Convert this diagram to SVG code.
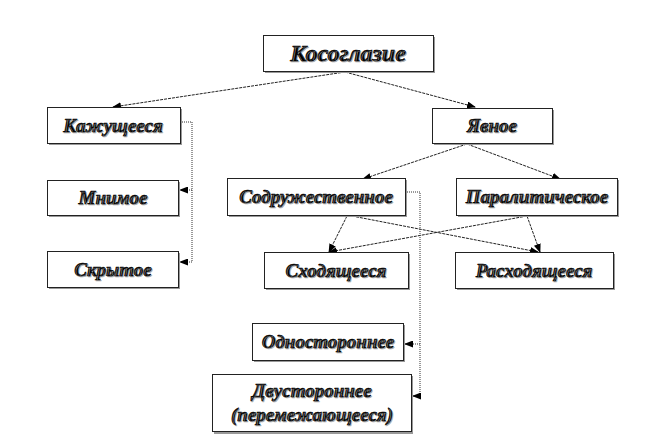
<svg xmlns="http://www.w3.org/2000/svg" width="672" height="435" viewBox="0 0 672 435">
<style>
.box{fill:#fff;stroke:#222;stroke-width:1}
.sh{fill:#999}
.t{font-family:'Liberation Serif',serif;font-weight:bold;font-style:italic;font-size:19px;fill:#000;stroke:#000;stroke-width:0.6;text-anchor:middle;text-shadow:1px 1px 0 #aaa}
.c{fill:none;stroke:#222;stroke-width:1;stroke-dasharray:3 1}
.e{fill:none;stroke:#333;stroke-width:1;stroke-dasharray:1 1}
</style>
<defs>
<marker id="a" markerWidth="9" markerHeight="7" refX="8" refY="3.5" orient="auto" markerUnits="userSpaceOnUse">
<path d="M0,0 L9,3.5 L0,7 z" fill="#000"/>
</marker>
</defs>
<rect width="672" height="435" fill="#fff"/>
<g id="connectors">
<path class="c" d="M345,72 L113,107" marker-end="url(#a)"/>
<path class="c" d="M345,72 L475,107" marker-end="url(#a)"/>
<path class="c" d="M467,144 L363,179" marker-end="url(#a)"/>
<path class="c" d="M467,144 L560,179" marker-end="url(#a)"/>
<path class="c" d="M347,216 L329,252" marker-end="url(#a)"/>
<path class="c" d="M352,216 L538,252" marker-end="url(#a)"/>
<path class="c" d="M527,216 L329,252" marker-end="url(#a)"/>
<path class="c" d="M527,216 L540,252" marker-end="url(#a)"/>
<path class="e" d="M182,122 H192 V262"/>
<path class="e" d="M192,190 H180" marker-end="url(#a)"/>
<path class="e" d="M192,262 H180" marker-end="url(#a)"/>
<path class="e" d="M407,192 H420 V396"/>
<path class="e" d="M420,344 H405" marker-end="url(#a)"/>
<path class="e" d="M420,396 H413" marker-end="url(#a)"/>
</g>
<g id="n-kosoglazie">
<rect class="sh" x="265" y="37" width="170" height="36"/>
<rect class="box" x="263.5" y="35.5" width="170" height="36"/>
<text class="t" x="348" y="61" style="font-size:24px">Косоглазие</text>
</g>
<g id="n-kazhushcheesya">
<rect class="sh" x="49" y="109" width="133" height="36"/>
<rect class="box" x="47.5" y="107.5" width="133" height="36"/>
<text class="t" x="113" y="132">Кажущееся</text>
</g>
<g id="n-yavnoe">
<rect class="sh" x="434" y="110" width="120" height="35"/>
<rect class="box" x="432.5" y="108.5" width="120" height="35"/>
<text class="t" x="492" y="132">Явное</text>
</g>
<g id="n-mnimoe">
<rect class="sh" x="49" y="182" width="131" height="35"/>
<rect class="box" x="47.5" y="180.5" width="131" height="35"/>
<text class="t" x="113" y="204">Мнимое</text>
</g>
<g id="n-skrytoe">
<rect class="sh" x="49" y="253" width="131" height="36"/>
<rect class="box" x="47.5" y="251.5" width="131" height="36"/>
<text class="t" x="113" y="276">Скрытое</text>
</g>
<g id="n-sodruzhestvennoe">
<rect class="sh" x="229" y="180" width="178" height="37"/>
<rect class="box" x="227.5" y="178.5" width="178" height="37"/>
<text class="t" x="316" y="203">Содружественное</text>
</g>
<g id="n-paraliticheskoe">
<rect class="sh" x="458" y="180" width="161" height="37"/>
<rect class="box" x="456.5" y="178.5" width="161" height="37"/>
<text class="t" x="537" y="203">Паралитическое</text>
</g>
<g id="n-skhodyashcheesya">
<rect class="sh" x="266" y="254" width="144" height="36"/>
<rect class="box" x="264.5" y="252.5" width="144" height="36"/>
<text class="t" x="336" y="277">Сходящееся</text>
</g>
<g id="n-raskhodyashcheesya">
<rect class="sh" x="457" y="254" width="158" height="36"/>
<rect class="box" x="455.5" y="252.5" width="158" height="36"/>
<text class="t" x="534" y="277">Расходящееся</text>
</g>
<g id="n-odnostoronnee">
<rect class="sh" x="254" y="325" width="151" height="37"/>
<rect class="box" x="252.5" y="323.5" width="151" height="37"/>
<text class="t" x="328" y="348">Одностороннее</text>
</g>
<g id="n-dvustoronnee">
<rect class="sh" x="214" y="376" width="199" height="58"/>
<rect class="box" x="212.5" y="374.5" width="199" height="57"/>
<text class="t" x="312" y="397">Двустороннее</text>
<text class="t" x="312" y="421">(перемежающееся)</text>
</g>
</svg>
